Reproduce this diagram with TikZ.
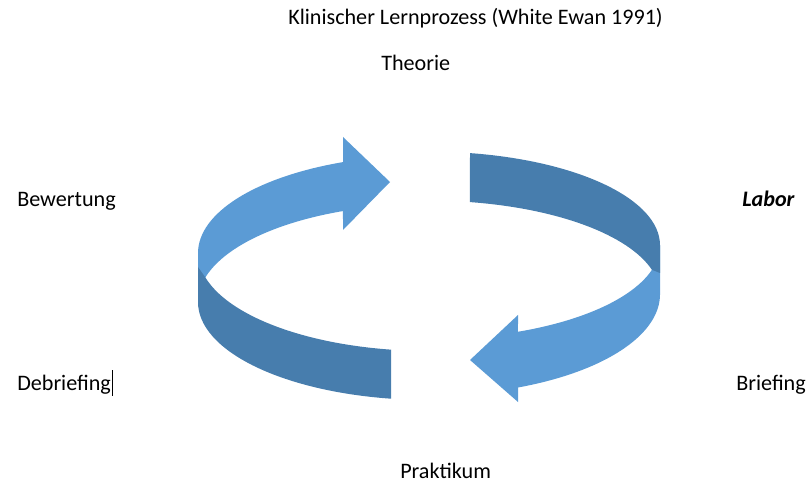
\documentclass[tikz,border=0pt]{standalone}
\usepackage{fontspec}
\setmainfont{Carlito}
\usepackage{tikz}
\definecolor{ribbonlight}{RGB}{91,155,213}
\definecolor{ribbondark}{RGB}{71,125,173}

\begin{document}
\begin{tikzpicture}[x=0.75pt, y=-0.75pt, every node/.style={inner sep=0pt, font=\fontsize{16.6}{19}\selectfont}, lightband/.style={fill=ribbonlight}, darkband/.style={fill=ribbondark}]
    \useasboundingbox (0,0) rectangle (810,484);
    % left arrow
    \fill[lightband] (343,162.1) arc[start angle=248.14, end angle=180, x radius=231, y radius=98] -- (198,302) arc[start angle=180, end angle=248.14, x radius=231, y radius=98] -- (343,230) -- (390,182) -- (343,137) -- cycle;
    \fill[darkband] (198,267) -- (205.4,277.5) arc[start angle=165.52, end angle=99.47, x radius=231, y radius=98] -- (391,398.7) arc[start angle=99.47, end angle=180, x radius=231, y radius=98] -- cycle;
    % right arrow
    \fill[lightband] (660,245.3) arc[start angle=0, end angle=67.34, x radius=231, y radius=93.7] -- (518,315) -- (470,360) -- (518,402) -- (518,387.5) arc[start angle=67.34, end angle=0, x radius=231, y radius=101] -- cycle;
    \fill[darkband] (470,153.1) arc[start angle=-79.78, end angle=0, x radius=231, y radius=93.7] -- (660,273) -- (651.9,269.8) arc[start angle=-15.16, end angle=-79.78, x radius=231, y radius=93.7] -- cycle;
    \node[anchor=base west] (title) at (288,25) {Klinischer Lernprozess (White Ewan 1991)};
    \node[anchor=base west] (theorie) at (381,71) {Theorie};
    \node[anchor=base west] (bewertung) at (17,207) {Bewertung};
    \node[anchor=base east] (labor) at (795,207) {\textbf{\textit{Labor}}};
    \node[anchor=base west] (debriefing) at (17,391) {Debriefing\kern0.5pt\rule[-3.75pt]{0.75pt}{19.5pt}};
    \node[anchor=base east] (briefing) at (806,391) {Briefing};
    \node[anchor=base west] (praktikum) at (400,478) {Praktikum};
\end{tikzpicture}
\end{document}
